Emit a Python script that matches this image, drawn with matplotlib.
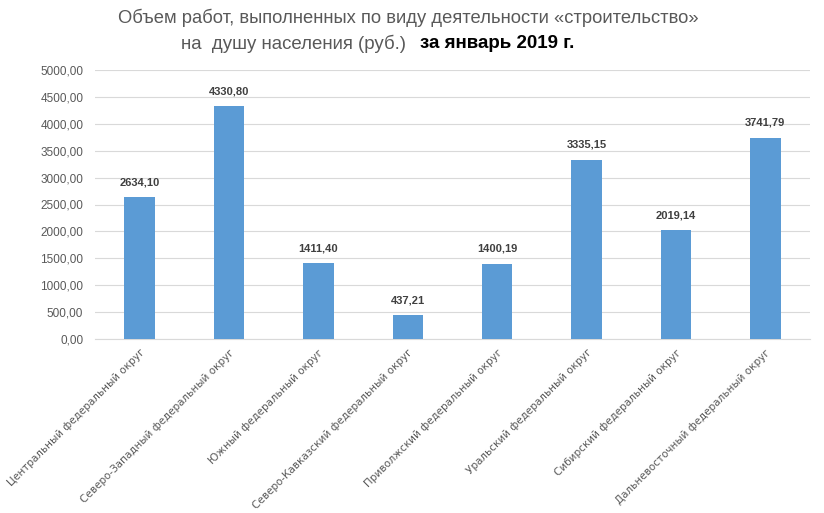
import matplotlib
matplotlib.use("Agg")
import matplotlib.pyplot as plt
import numpy as np

categories = [
    "Центральный федеральный округ",
    "Северо-Западный федеральный округ",
    "Южный федеральный округ",
    "Северо-Кавказский федеральный округ",
    "Приволжский федеральный округ",
    "Уральский федеральный округ",
    "Сибирский федеральный округ",
    "Дальневосточный федеральный округ",
]
values = [2634.10, 4330.80, 1411.40, 437.21, 1400.19, 3335.15, 2019.14, 3741.79]
yticks = [0, 500, 1000, 1500, 2000, 2500, 3000, 3500, 4000, 4500, 5000]

def fmt(v):
    return f"{v:.2f}".replace(".", ",")

fig = plt.figure(figsize=(8.24, 5.13), dpi=100)
ax = fig.add_axes([95/824, 1-339/513, (810-95)/824, (339-70)/513])

x = np.arange(len(categories))
ax.bar(x, values, width=0.34, color="#5B9BD5", zorder=3)
ax.set_xlim(-0.5, len(categories) - 0.5)
ax.set_ylim(0, 5000)
ax.set_yticks(yticks)
ax.set_yticklabels([fmt(v) for v in yticks], fontsize=8.5, color="#595959",
                   family=["Liberation Sans", "DejaVu Sans"])
ax.yaxis.grid(True, color="#D9D9D9", linewidth=0.8, zorder=0)
ax.tick_params(axis="y", length=0, pad=8.5)
ax.tick_params(axis="x", length=0, pad=6)
for s in ["top", "right", "left"]:
    ax.spines[s].set_visible(False)
ax.spines["bottom"].set_color("#D9D9D9")

ax.set_xticks(x)
ax.set_xticklabels(categories, rotation=45, ha="right", rotation_mode="anchor",
                   fontsize=7.5, color="#595959", family=["DejaVu Sans"])

for xi, v in zip(x, values):
    ax.annotate(fmt(v), (xi, v), xytext=(0, 7), textcoords="offset points",
                ha="center", va="bottom", fontsize=8, fontweight="bold",
                color="#404040", family=["Liberation Sans", "DejaVu Sans"])

tf = ["Liberation Sans Narrow", "Liberation Sans", "DejaVu Sans"]
fig.text(408/824, 1-18/513, "Объем работ, выполненных по виду деятельности «строительство»",
         ha="center", va="center", fontsize=13.2, color="#595959", family=tf)
fig.text(406/824, 1-44/513, "на  душу населения (руб.)", ha="right", va="center",
         fontsize=13.4, color="#595959", family=tf)
fig.text(420/824, 1-44/513, "за январь 2019 г.", ha="left", va="center",
         fontsize=13.5, color="black", fontweight="bold", family=["Liberation Sans", "DejaVu Sans"])

fig.savefig("out.png", dpi=100)
